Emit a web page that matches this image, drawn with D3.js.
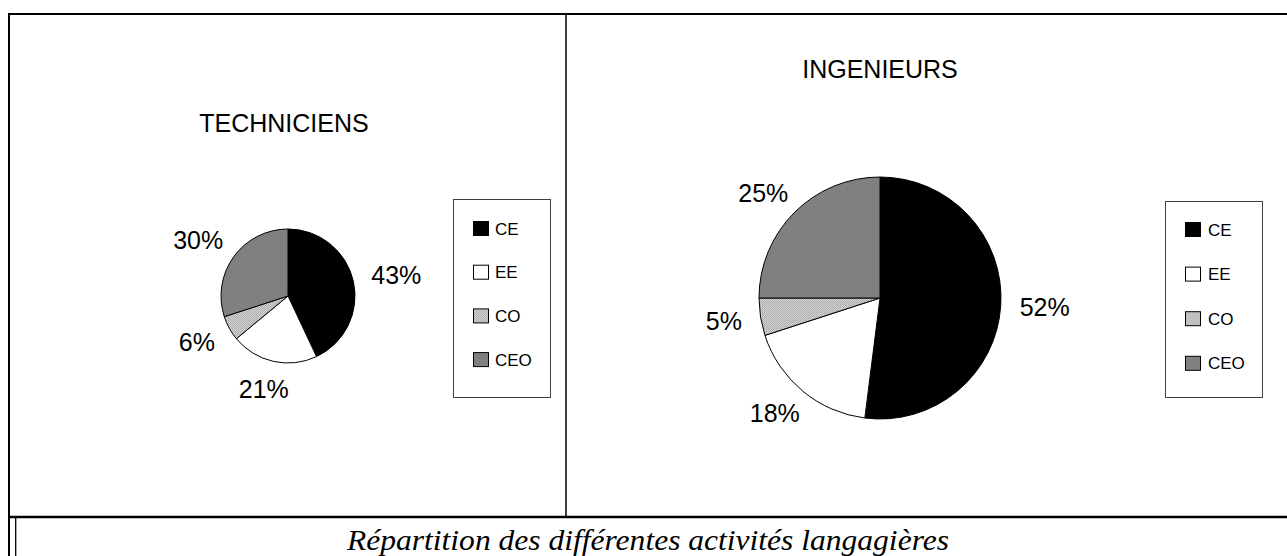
<!DOCTYPE html>
<html>
<head>
<meta charset="utf-8">
<script src="https://cdn.jsdelivr.net/npm/d3@7"></script>
<style>
  body { margin: 0; background: #fff; }
  svg { display: block; }
  text { font-family: 'Liberation Sans', Arial, sans-serif; fill: #000; }
</style>
</head>
<body>
<div id="container"></div>
<script>
// data
const categories = ['CE', 'EE', 'CO', 'CEO'];
const techniciens = [43, 21, 6, 30];
const ingenieurs = [52, 18, 5, 25];
const panelTitles = ['TECHNICIENS', 'INGENIEURS'];
const caption = 'Répartition des différentes activités langagières';

const width = 1287, height = 556;
const fills = { CE: '#000000', EE: '#ffffff', CO: 'url(#coPattern)', CEO: '#808080' };

const svg = d3.select('#container').append('svg')
  .attr('width', width)
  .attr('height', height);

// fine dotted grey used by Excel for the CO slice
const pat = svg.append('defs').append('pattern')
  .attr('id', 'coPattern')
  .attr('width', 2).attr('height', 2)
  .attr('patternUnits', 'userSpaceOnUse');
pat.append('rect').attr('width', 2).attr('height', 2).attr('fill', '#d2d2d2');
pat.append('rect').attr('width', 1).attr('height', 1).attr('fill', '#a8a8a8');
pat.append('rect').attr('x', 1).attr('y', 1).attr('width', 1).attr('height', 1).attr('fill', '#b4b4b4');

// table frame
const frame = svg.append('g').attr('stroke', '#000').attr('fill', 'none');
frame.append('line').attr('x1', 8).attr('x2', width).attr('y1', 14).attr('y2', 14).attr('stroke-width', 2);
frame.append('line').attr('x1', 9).attr('x2', 9).attr('y1', 13).attr('y2', height).attr('stroke-width', 2);
frame.append('line').attr('x1', 566).attr('x2', 566).attr('y1', 15).attr('y2', 516).attr('stroke-width', 1.5);
frame.append('line').attr('x1', 8).attr('x2', width).attr('y1', 517).attr('y2', 517).attr('stroke-width', 2.5);
frame.append('line').attr('x1', 15.7).attr('x2', 15.7).attr('y1', 518).attr('y2', height).attr('stroke-width', 1.3);

const panels = [
  { title: panelTitles[0], values: techniciens, cx: 288, cy: 296, r: 67, titleX: 284, titleY: 132,
    legend: { x: 453, y: 199, w: 97, h: 198, sx: 473, tx: 495, y0: 228.5, step: 43.7 } },
  { title: panelTitles[1], values: ingenieurs, cx: 880, cy: 298, r: 121, titleX: 880, titleY: 78,
    legend: { x: 1165, y: 201, w: 97, h: 196, sx: 1185, tx: 1208, y0: 229.5, step: 44.6 } }
];

const pie = d3.pie().sort(null).value(d => d.value);

panels.forEach(p => {
  const data = categories.map((c, i) => ({ key: c, value: p.values[i] }));

  svg.append('text')
    .attr('x', p.titleX).attr('y', p.titleY)
    .attr('text-anchor', 'middle')
    .style('font-size', '25px')
    .text(p.title);

  const g = svg.append('g').attr('transform', `translate(${p.cx},${p.cy})`);
  const arc = d3.arc().innerRadius(0).outerRadius(p.r);
  const arcs = pie(data);

  g.selectAll('path')
    .data(arcs).enter()
    .append('path')
    .attr('d', arc)
    .attr('fill', d => fills[d.data.key])
    .attr('stroke', '#000')
    .attr('stroke-width', 1);

  // percentage labels placed just outside the rim
  arcs.forEach(a => {
    const mid = (a.startAngle + a.endAngle) / 2;
    const dx = Math.sin(mid), dy = -Math.cos(mid);
    const t = g.append('text')
      .attr('text-anchor', 'middle')
      .style('font-size', '25px')
      .text(a.data.value + '%');
    const hw = t.node().getComputedTextLength() / 2;
    const hh = 9;
    t.attr('x', dx * (p.r + 19 + hw))
      .attr('y', dy * (p.r + 19 + hh) + 9);
  });

  // legend
  const L = p.legend;
  svg.append('rect')
    .attr('x', L.x + 0.5).attr('y', L.y + 0.5)
    .attr('width', L.w).attr('height', L.h)
    .attr('fill', '#fff')
    .attr('stroke', '#404040');

  const items = svg.append('g').selectAll('g')
    .data(categories).enter()
    .append('g')
    .attr('transform', (d, i) => `translate(0,${L.y0 + i * L.step})`);

  items.append('rect')
    .attr('x', L.sx + 0.5).attr('y', -7)
    .attr('width', 15).attr('height', 14)
    .attr('fill', d => fills[d])
    .attr('stroke', '#000')
    .attr('stroke-width', 1);

  items.append('text')
    .attr('x', L.tx).attr('y', 6)
    .style('font-size', '17px')
    .text(d => d);
});

svg.append('text')
  .attr('x', 648).attr('y', 550)
  .attr('text-anchor', 'middle')
  .attr('textLength', 602)
  .attr('lengthAdjust', 'spacingAndGlyphs')
  .style('font-family', "'Liberation Serif', 'Times New Roman', serif")
  .style('font-style', 'italic')
  .style('font-size', '29px')
  .text(caption);
</script>
</body>
</html>
